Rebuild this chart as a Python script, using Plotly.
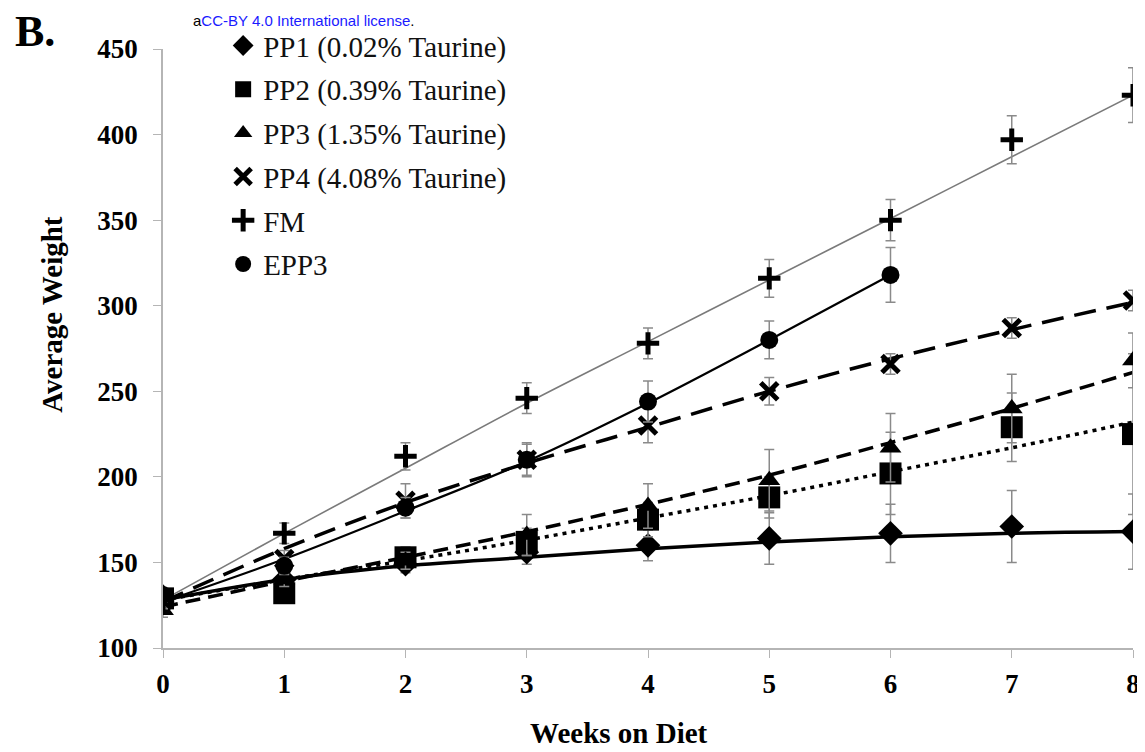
import plotly.graph_objects as go

weeks = [0, 1, 2, 3, 4, 5, 6, 7, 8]
weeks_epp3 = [0, 1, 2, 3, 4, 5, 6]

names = ["PP1 (0.02% Taurine)", "PP2 (0.39% Taurine)", "PP3 (1.35% Taurine)",
         "PP4 (4.08% Taurine)", "FM", "EPP3"]

pp1 = [130, 140, 149, 156, 160, 164, 167, 171, 168]
pp1_err = [4, 4, 5, 7, 9, 15, 17, 21, 22]
pp1_trend = [128, 140, 148, 153, 158, 162, 165, 167, 168]

pp2 = [129, 132, 153, 162, 175, 188, 202, 229, 225]
pp2_err = [4, 4, 6, 8, 10, 12, 24, 20, 47]
pp2_trend = [128, 140, 151, 163, 176, 189, 203, 217, 232]

pp3 = [122, 140, 151, 166, 183, 198, 217, 240, 268]
pp3_err = [4, 4, 5, 12, 13, 18, 20, 20, 16]
pp3_trend = [124, 139, 153, 168, 184, 201, 220, 240, 261]

pp4 = [128, 152, 186, 210, 230, 250, 266, 287, 303]
pp4_err = [4, 5, 10, 10, 10, 8, 6, 6, 6]
pp4_trend = [127, 158, 185, 208, 229, 250, 269, 286, 302]

fm = [127, 167, 212, 246, 278, 316, 350, 397, 423]
fm_err = [4, 6, 8, 9, 9, 11, 12, 14, 16]
fm_trend = [128, 167, 205, 243, 279, 315, 351, 387, 423]

epp3 = [131, 148, 182, 210, 244, 280, 318]
epp3_err = [4, 5, 6, 9, 12, 11, 16]
epp3_trend = [127, 152, 180, 209, 243, 280, 318]

y_ticks = [100, 150, 200, 250, 300, 350, 400, 450]

SERIF = "Liberation Serif"
ERR_COLOR = "#8a8a8a"

series = [
    (names[0], weeks, pp1, pp1_err, pp1_trend,
     dict(color="black", width=3.5, dash="solid"),
     dict(symbol="diamond", size=19, color="black")),
    (names[1], weeks, pp2, pp2_err, pp2_trend,
     dict(color="black", width=3.5, dash="4px,5px"),
     dict(symbol="square", size=22, color="black")),
    (names[2], weeks, pp3, pp3_err, pp3_trend,
     dict(color="black", width=3.5, dash="15px,8px"),
     dict(symbol="triangle-up", size=19, color="black")),
    (names[3], weeks, pp4, pp4_err, pp4_trend,
     dict(color="black", width=3.5, dash="22px,11px"),
     dict(symbol="x-thin", size=17, color="black", line=dict(color="black", width=5))),
    (names[4], weeks, fm, fm_err, fm_trend,
     dict(color="#7a7a7a", width=1.6, dash="solid"),
     dict(symbol="cross-thin", size=16, color="black", line=dict(color="black", width=5))),
    (names[5], weeks_epp3, epp3, epp3_err, epp3_trend,
     dict(color="black", width=2.2, dash="solid"),
     dict(symbol="circle", size=18, color="black")),
]

fig = go.Figure()

# trend lines first (below markers)
for name, xs, ys, errs, trend, line, marker in series:
    fig.add_trace(go.Scatter(
        x=xs, y=trend, mode="lines", line=dict(shape="spline", **line),
        legendgroup=name, showlegend=False, hoverinfo="skip"))

for name, xs, ys, errs, trend, line, marker in series:
    fig.add_trace(go.Scatter(
        x=xs, y=ys, mode="markers", name=name, legendgroup=name,
        marker=marker,
        error_y=dict(type="data", array=errs, visible=True,
                     color=ERR_COLOR, thickness=1.5, width=5)))

# page body has an 8px margin: the figure is offset by 8px in the window
fig.update_layout(
    width=1137, height=744,
    paper_bgcolor="white", plot_bgcolor="white",
    margin=dict(l=155, r=12, t=38, b=104),
    font=dict(family=SERIF, color="black"),
    showlegend=True,
    legend=dict(x=0.062, y=1.0482, xanchor="left", yanchor="top",
                font=dict(family=SERIF, size=29, color="#111"),
                bgcolor="rgba(0,0,0,0)", tracegroupgap=3,
                itemsizing="trace"),
    xaxis=dict(range=[0, 8], tickmode="array", tickvals=weeks,
               automargin=False, ticklabeloverflow="allow",
               showline=True, linecolor="#b5b5b5", linewidth=1.5,
               ticks="outside", ticklen=8, tickcolor="#b5b5b5",
               showgrid=False, zeroline=False,
               tickfont=dict(family=SERIF, size=27, weight="bold"),
               ticklabelstandoff=3),
    yaxis=dict(range=[100, 450], tickmode="array", tickvals=y_ticks,
               automargin=False,
               showline=True, linecolor="#b5b5b5", linewidth=1.5,
               ticks="outside", ticklen=8, tickcolor="#b5b5b5",
               showgrid=False, zeroline=False,
               tickfont=dict(family=SERIF, size=27, weight="bold"),
               ticklabelstandoff=10),
)

# axis titles (offset from the plot centre as in the reference)
fig.add_annotation(text="Weeks on Diet", xref="paper", yref="paper",
                   x=0.47, y=-0.142, xanchor="center", yanchor="middle",
                   showarrow=False,
                   font=dict(family=SERIF, size=29, weight="bold", color="black"))
fig.add_annotation(text="Average Weight", xref="paper", yref="paper",
                   x=-0.114, y=0.557, xanchor="center", yanchor="middle",
                   textangle=-90, showarrow=False,
                   font=dict(family=SERIF, size=29, weight="bold", color="black"))

fig.add_annotation(text="B.", xref="paper", yref="paper", x=-0.155, y=1.073,
                   xanchor="left", yanchor="top", showarrow=False,
                   font=dict(family=SERIF, size=44, weight="bold", color="black"))
fig.add_annotation(text="a<span style='color:#1a1aff'>CC-BY 4.0 International license</span>.",
                   xref="paper", yref="paper", x=0.03, y=1.0631,
                   xanchor="left", yanchor="top", showarrow=False, borderpad=0,
                   font=dict(family="Liberation Sans", size=15, color="black"))

fig.write_html("out.html")
